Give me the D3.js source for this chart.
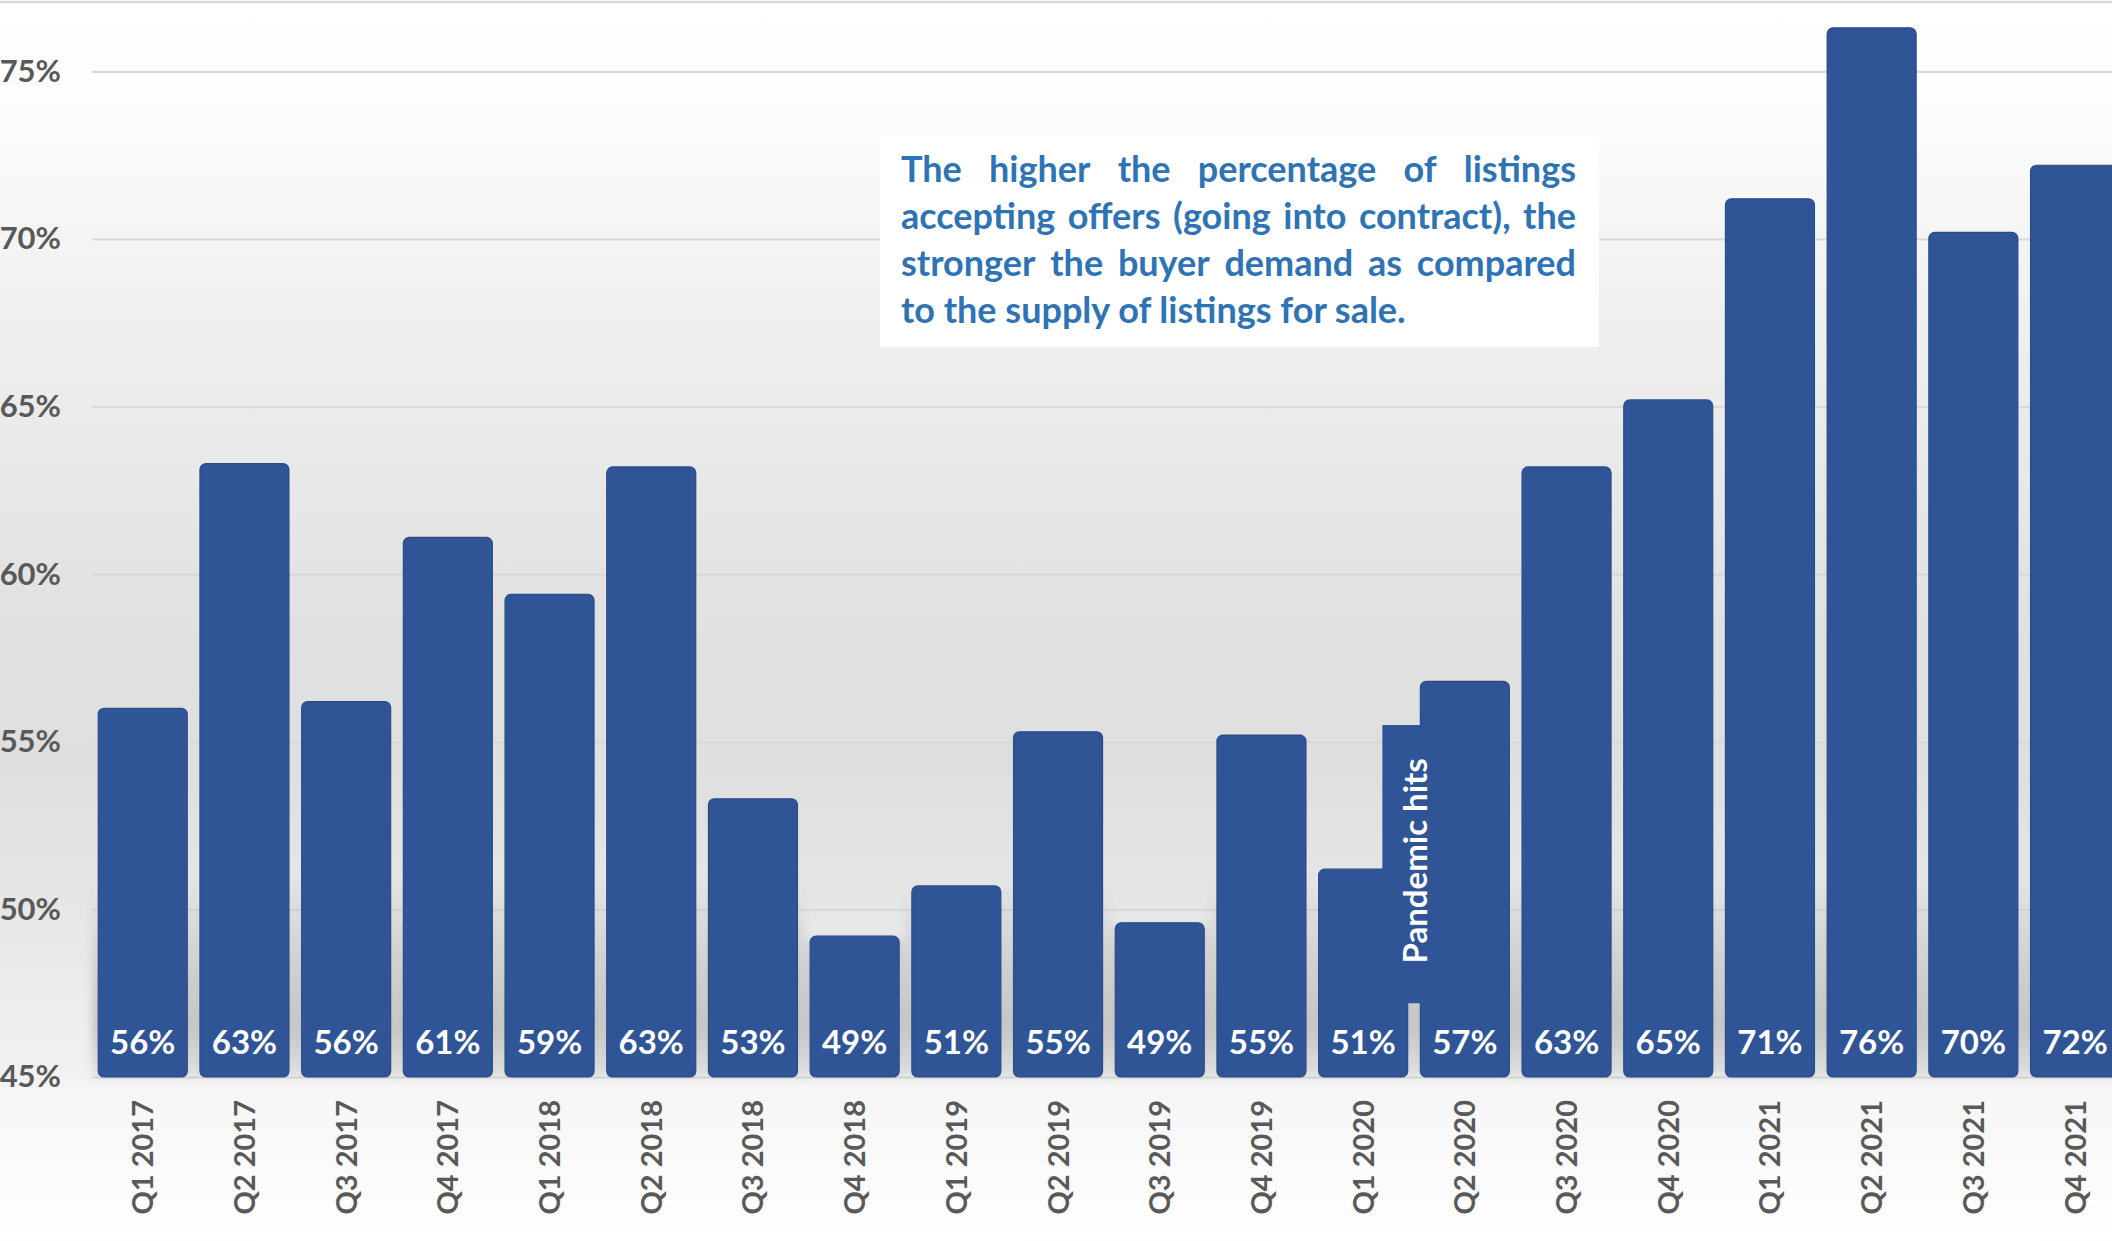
<!DOCTYPE html>
<html><head><meta charset="utf-8">
<script src="https://cdn.jsdelivr.net/npm/d3@7"></script>
<style>html,body{margin:0;padding:0;background:#fff;overflow:hidden}</style>
</head><body><svg id="chart" width="2112" height="1241"></svg>
<script>
// ---------------- DATA ----------------
const categories = ["Q1 2017","Q2 2017","Q3 2017","Q4 2017","Q1 2018","Q2 2018","Q3 2018","Q4 2018",
  "Q1 2019","Q2 2019","Q3 2019","Q4 2019","Q1 2020","Q2 2020","Q3 2020","Q4 2020",
  "Q1 2021","Q2 2021","Q3 2021","Q4 2021"];
const values = [56.0, 63.3, 56.2, 61.1, 59.4, 63.2, 53.3, 49.2, 50.7, 55.3,
  49.6, 55.2, 51.2, 56.8, 63.2, 65.2, 71.2, 76.3, 70.2, 72.2];
const valueLabels = ["56%","63%","56%","61%","59%","63%","53%","49%","51%","55%",
  "49%","55%","51%","57%","63%","65%","71%","76%","70%","72%"];
const yTicks = [45, 50, 55, 60, 65, 70, 75];
const yTickLabels = ["45%","50%","55%","60%","65%","70%","75%"];
const noteLines = [
  "The higher the percentage of listings",
  "accepting offers (going into contract), the",
  "stronger the buyer demand as compared",
  "to the supply of listings for sale."
];
const pandemicLabel = "Pandemic hits";
const pandemicCategory = "Q2 2020";
const pandemicRange = [47.2, 55.5];

// ---------------- LAYOUT ----------------
const W = 2112, H = 1241;
const FONT = "Lato, 'Open Sans', sans-serif";
const BAR = "#2F5597";
const svg = d3.select("#chart");
const defs = svg.append("defs");

const bg = defs.append("linearGradient").attr("id","bg")
  .attr("x1",0).attr("y1",0).attr("x2",0).attr("y2",1);
[[0,"#ffffff"],[0.08,"#fdfdfd"],[0.25,"#f0f0f0"],[0.5,"#e1e1e1"],[0.62,"#dfdfdf"],
 [0.74,"#e7e7e7"],[0.868,"#f2f2f2"],[0.88,"#f6f6f6"],[1,"#ffffff"]]
  .forEach(([o,c]) => bg.append("stop").attr("offset",o).attr("stop-color",c));

const sh = defs.append("linearGradient").attr("id","shadow")
  .attr("gradientUnits","userSpaceOnUse").attr("x1",0).attr("y1",880).attr("x2",0).attr("y2",1077);
[[0,0],[0.45,0.2],[0.75,0.3],[1,0.12]]
  .forEach(([o,a]) => sh.append("stop").attr("offset",o).attr("stop-color","#555").attr("stop-opacity",a));
defs.append("filter").attr("id","blur").attr("x","-30%").attr("y","-10%").attr("width","160%").attr("height","120%")
  .append("feGaussianBlur").attr("stdDeviation",4);

svg.append("rect").attr("width",W).attr("height",H).attr("fill","url(#bg)");
svg.append("line").attr("x1",0).attr("x2",W).attr("y1",2).attr("y2",2)
  .attr("stroke","#d9d9d9").attr("stroke-width",2.5);

const x = d3.scaleBand().domain(categories).range([91.9, 2125.9])
  .paddingInner(0.125).paddingOuter(0.0625);
const y = d3.scaleLinear().domain([45, 75]).range([1077, 71.4]);

// gridlines + y labels
const yAxis = svg.append("g").attr("transform","translate(92,0)")
  .call(d3.axisLeft(y).tickValues(yTicks).tickSize(-(W - 92)).tickPadding(31)
    .tickFormat((d,i) => yTickLabels[i]));
yAxis.select(".domain").remove();
yAxis.selectAll("line").attr("stroke","#d9d9d9").attr("stroke-width",2.2);
yAxis.selectAll("text").attr("fill","#595959").style("font-family",FONT)
  .style("font-weight","700").style("font-size","31px");

// shadows
svg.append("g").selectAll("rect").data(categories).join("rect")
  .attr("x", d => x(d) - 6)
  .attr("width", x.bandwidth() + 12)
  .attr("y", (d,i) => Math.max(y(values[i]) + 4, 880))
  .attr("height", (d,i) => y(45) - Math.max(y(values[i]) + 4, 880))
  .attr("fill","url(#shadow)").attr("filter","url(#blur)");

// bars
svg.append("g").selectAll("rect").data(categories).join("rect")
  .attr("x", d => x(d))
  .attr("width", x.bandwidth())
  .attr("y", (d,i) => y(values[i]))
  .attr("height", (d,i) => y(45) - y(values[i]))
  .attr("rx", 6).attr("ry", 6)
  .attr("fill", BAR).attr("stroke","#2a4c89").attr("stroke-width",1.2);

// pandemic annotation
const px = x(pandemicCategory);
svg.append("rect").attr("x", px - 38).attr("width", 44)
  .attr("y", y(pandemicRange[1])).attr("height", y(pandemicRange[0]) - y(pandemicRange[1]))
  .attr("fill", BAR);
svg.append("text").text(pandemicLabel)
  .attr("transform", `translate(${px - 5},${y(51.45)}) rotate(-90)`)
  .attr("text-anchor","middle").attr("dy","0.36em")
  .attr("fill","#ffffff").style("font-family",FONT).style("font-weight","700").style("font-size","33px");

// value labels
svg.append("g").selectAll("text").data(categories).join("text")
  .attr("x", d => x(d) + x.bandwidth()/2)
  .attr("y", y(45) - 23)
  .attr("text-anchor","middle")
  .attr("fill","#ffffff").style("font-family",FONT).style("font-weight","700").style("font-size","33px")
  .text((d,i) => valueLabels[i]);

// x axis labels
const xAxis = svg.append("g").attr("transform",`translate(0,${y(45)})`)
  .call(d3.axisBottom(x).tickSize(0));
xAxis.select(".domain").remove();
xAxis.selectAll("text")
  .attr("x", -23).attr("y", 0).attr("dy","0.36em")
  .attr("transform","rotate(-90)").style("text-anchor","end")
  .attr("fill","#595959").style("font-family",FONT).style("font-weight","700").style("font-size","29px");

// note box
const box = {x0: 880, y0: 134, x1: 1599, y1: 347};
svg.append("rect").attr("x",box.x0).attr("y",box.y0)
  .attr("width",box.x1-box.x0).attr("height",box.y1-box.y0).attr("fill","#ffffff");
const tx0 = 901, tx1 = 1576, baselines = [182, 229, 276, 323];
const noteG = svg.append("g").attr("fill","#2E74B5").style("font-family",FONT)
  .style("font-weight","700");
// fit font size by line 2
let fs = 30;
const probe = noteG.append("text").style("font-size", fs + "px").text(noteLines[1]);
const natural = probe.node().getComputedTextLength();
probe.remove();
fs = Math.min(36, fs * (tx1 - tx0) / natural * 0.985);
noteLines.forEach((line, li) => {
  const words = line.split(" ");
  const t = noteG.append("text").attr("y", baselines[li]).style("font-size", fs + "px");
  if (li === noteLines.length - 1) { t.attr("x", tx0).text(line); return; }
  const widths = words.map(w => {
    const p = noteG.append("text").style("font-size", fs + "px").text(w);
    const wd = p.node().getComputedTextLength(); p.remove(); return wd;
  });
  const gap = (tx1 - tx0 - d3.sum(widths)) / (words.length - 1);
  let cx = tx0;
  words.forEach((w, wi) => {
    t.append("tspan").attr("x", cx).text(w);
    cx += widths[wi] + gap;
  });
});
</script></body></html>
